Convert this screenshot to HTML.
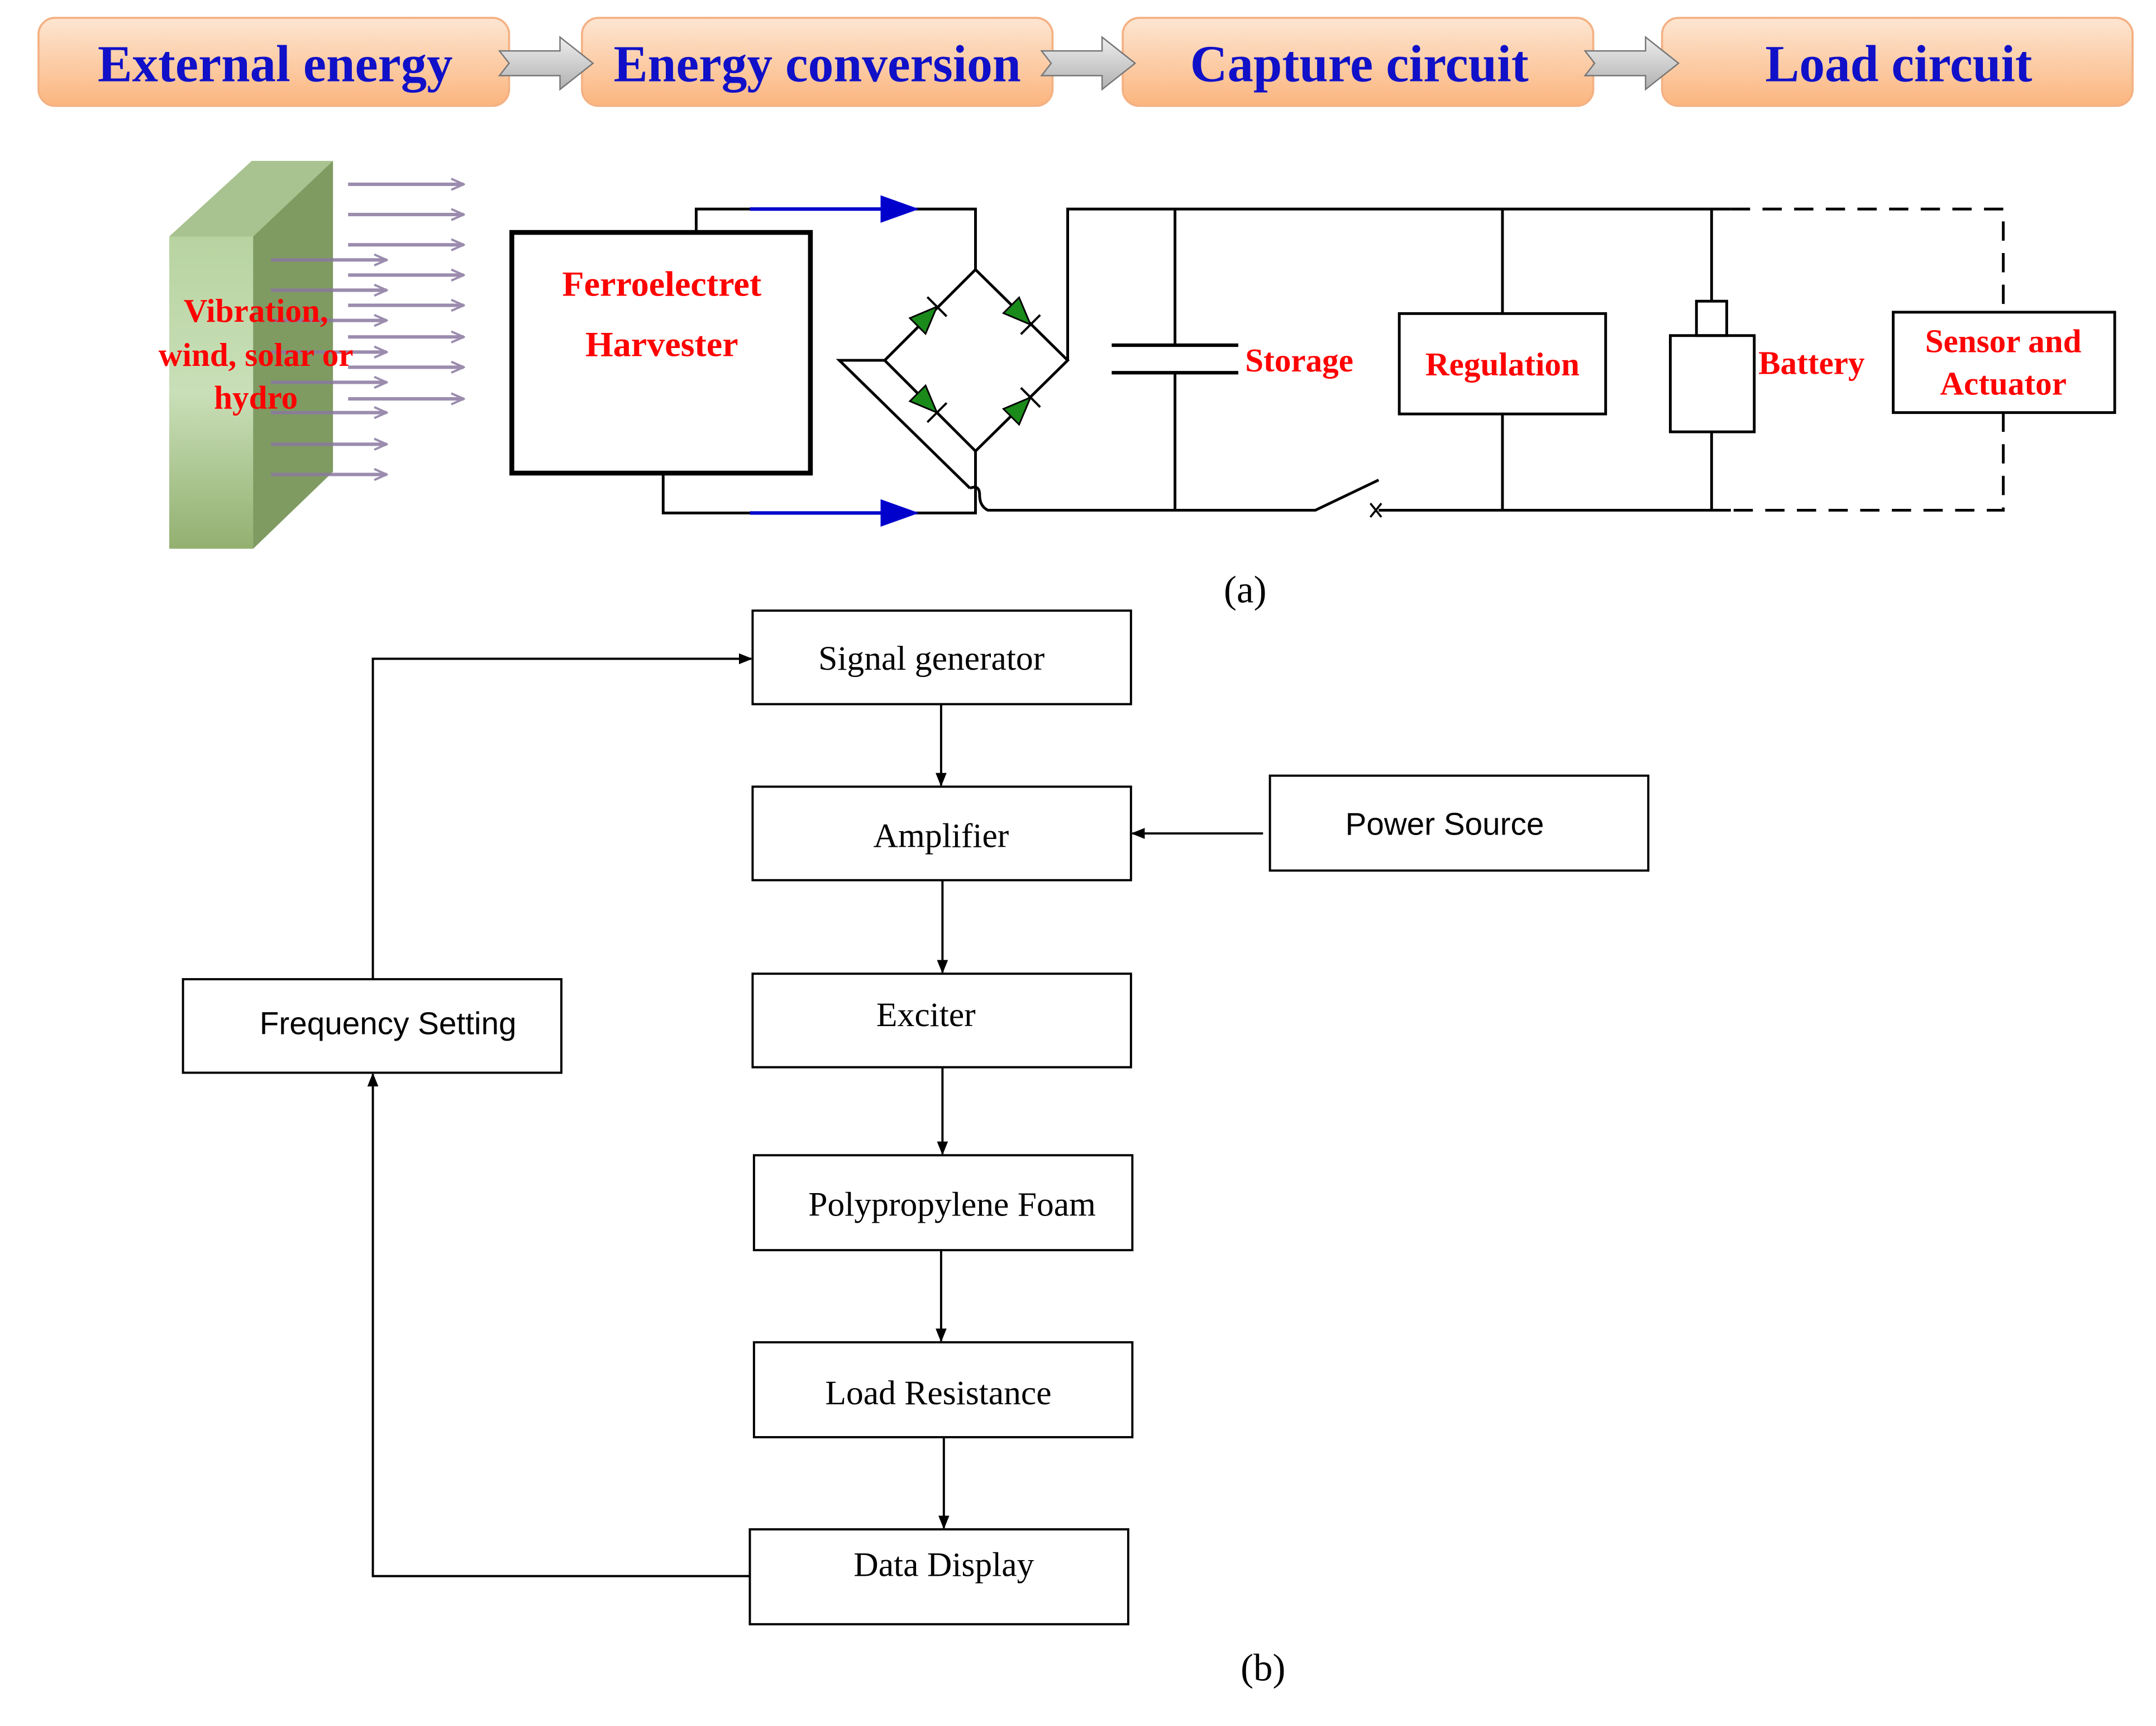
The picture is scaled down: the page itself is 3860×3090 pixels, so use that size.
<!DOCTYPE html>
<html><head><meta charset="utf-8"><style>
html,body{margin:0;padding:0;background:#fff}
svg{display:block}
.ser{font-family:"Liberation Serif",serif}
.san{font-family:"Liberation Sans",sans-serif}
</style></head><body>
<svg width="3860" height="3090" viewBox="0 0 1567 1255" preserveAspectRatio="none" xmlns="http://www.w3.org/2000/svg">
<defs>
<linearGradient id="ob" x1="0" y1="0" x2="0" y2="1"><stop offset="0" stop-color="#fde6d2"/><stop offset="1" stop-color="#fbb57e"/></linearGradient>
<linearGradient id="ga" x1="0" y1="0" x2="0" y2="1"><stop offset="0" stop-color="#eeeeee"/><stop offset="1" stop-color="#b0b0b0"/></linearGradient>
<linearGradient id="gf" x1="0" y1="0" x2="0" y2="1"><stop offset="0" stop-color="#b8d3a0"/><stop offset="0.5" stop-color="#c9dfb8"/><stop offset="1" stop-color="#93b070"/></linearGradient>
<marker id="ah" markerWidth="10" markerHeight="10" refX="9" refY="5" orient="auto" markerUnits="userSpaceOnUse"><path d="M0,1 L10,5 L0,9 Z" fill="#000"/></marker>
<marker id="pa" markerWidth="12" markerHeight="10" refX="11" refY="5" orient="auto" markerUnits="userSpaceOnUse"><path d="M2,1 L11,5 L2,9" fill="none" stroke="#8a78a0" stroke-width="1.6"/></marker>
</defs>

<g>
<rect x="28" y="13" width="342" height="64" rx="12" fill="url(#ob)" stroke="#f4b183" stroke-width="1.5"/>
<rect x="423" y="13" width="342" height="64" rx="12" fill="url(#ob)" stroke="#f4b183" stroke-width="1.5"/>
<rect x="816" y="13" width="342" height="64" rx="12" fill="url(#ob)" stroke="#f4b183" stroke-width="1.5"/>
<rect x="1208" y="13" width="342" height="64" rx="12" fill="url(#ob)" stroke="#f4b183" stroke-width="1.5"/>
<g fill="url(#ga)" stroke="#777" stroke-width="1">
<path d="M363,37 L407,37 L407,27 L431,46 L407,65 L407,55 L363,55 L370,46 Z"/>
<path d="M757,37 L801,37 L801,27 L825,46 L801,65 L801,55 L757,55 L764,46 Z"/>
<path d="M1152,37 L1196,37 L1196,27 L1220,46 L1196,65 L1196,55 L1152,55 L1159,46 Z"/>
</g>
<g class="ser" font-weight="bold" font-size="38" fill="#1010c8" text-anchor="middle">
<text x="200" y="59" textLength="258" lengthAdjust="spacingAndGlyphs">External energy</text>
<text x="594" y="59" textLength="296" lengthAdjust="spacingAndGlyphs">Energy conversion</text>
<text x="988" y="59" textLength="246" lengthAdjust="spacingAndGlyphs">Capture circuit</text>
<text x="1380" y="59" textLength="194" lengthAdjust="spacingAndGlyphs">Load circuit</text>
</g>
</g>

<path d="M123,172 L183,117 L242,117 L242,343 L184,399 Z" fill="#a9c48c"/>
<path d="M183,172 L242,117 L242,343 L184,399 Z" fill="#7f9b62"/>
<rect x="123" y="172" width="61" height="227" fill="url(#gf)"/>
<path d="M123,172 L183,117 L242,117 L184,172 Z" fill="#a8c290"/>
<g stroke="#8a78a0" stroke-width="2.5" marker-end="url(#pa)" opacity="0.85">
<line x1="253" y1="134" x2="337" y2="134"/><line x1="253" y1="156" x2="337" y2="156"/><line x1="253" y1="178" x2="337" y2="178"/>
<line x1="253" y1="200" x2="337" y2="200"/><line x1="253" y1="222" x2="337" y2="222"/><line x1="253" y1="245" x2="337" y2="245"/>
<line x1="253" y1="267" x2="337" y2="267"/><line x1="253" y1="290" x2="337" y2="290"/>
<line x1="197" y1="189" x2="281" y2="189"/><line x1="197" y1="211" x2="281" y2="211"/><line x1="197" y1="233" x2="281" y2="233"/>
<line x1="197" y1="256" x2="281" y2="256"/><line x1="197" y1="278" x2="281" y2="278"/><line x1="197" y1="300" x2="281" y2="300"/>
<line x1="197" y1="323" x2="281" y2="323"/><line x1="197" y1="345" x2="281" y2="345"/>
</g>
<g class="ser" font-weight="bold" font-size="24" fill="#f00" text-anchor="middle">
<text x="186" y="234">Vibration,</text><text x="186" y="266">wind, solar or</text><text x="186" y="297">hydro</text>
</g>

<rect x="372" y="169" width="217" height="175" fill="#fff" stroke="#000" stroke-width="3.5"/>
<g class="ser" font-weight="bold" font-size="26" fill="#f00" text-anchor="middle">
<text x="481" y="215">Ferroelectret</text><text x="481" y="259">Harvester</text>
</g>
<g fill="none" stroke="#000" stroke-width="2">
<polyline points="506,169 506,152 545,152"/>
<polyline points="482,344 482,373 545,373"/>
<polyline points="665,152 709,152 709,196"/>
<polyline points="665,373 709,373 709,328"/>
<polygon points="709,196 776,262 709,328 643,262"/>
<polyline points="643,262 610,262 705,355"/>
<path d="M705,355 Q712,352 712,360 Q712,368 718,371 L956,371 L1002,349"/>
<polyline points="776,262 776,152 1258,152"/>
<line x1="1002" y1="371" x2="1258" y2="371"/>
<line x1="854" y1="152" x2="854" y2="251"/><line x1="854" y1="271" x2="854" y2="371"/>
<line x1="808" y1="251" x2="900" y2="251" stroke-width="2.5"/><line x1="808" y1="271" x2="900" y2="271" stroke-width="2.5"/>
<line x1="1092" y1="152" x2="1092" y2="228"/><line x1="1092" y1="301" x2="1092" y2="371"/>
<line x1="1244" y1="152" x2="1244" y2="219"/><line x1="1244" y1="314" x2="1244" y2="371"/>
<rect x="1233" y="219" width="22" height="25"/>
<rect x="1214" y="244" width="61" height="70"/>
<rect x="1017" y="228" width="150" height="73"/>
<rect x="1376" y="227" width="161" height="73"/>
<path d="M1258,152 L1456,152 L1456,227 M1456,300 L1456,371 L1258,371" stroke-dasharray="14,9"/>
<path d="M996,366 l8,10 M1004,366 l-8,10" stroke-width="1.5"/>
</g>
<g stroke="#0000cc" stroke-width="2.5"><line x1="545" y1="152" x2="645" y2="152"/><line x1="545" y1="373" x2="645" y2="373"/></g>
<g fill="#0000cc"><path d="M640,142 L668,152 L640,162 Z"/><path d="M640,363 L668,373 L640,383 Z"/></g>
<g fill="#1a8a1a" stroke="#000" stroke-width="1.2">
<polygon points="681,223 672.7,242.7 661.3,231.3"/>
<polygon points="749,236 740.7,216.3 729.3,227.7"/>
<polygon points="681,300 672.7,280.3 661.3,291.7"/>
<polygon points="749,289 740.7,308.7 729.3,297.3"/>
</g>
<g stroke="#000" stroke-width="1.6">
<line x1="674" y1="216" x2="688" y2="230"/><line x1="742" y1="243" x2="756" y2="229"/>
<line x1="674" y1="307" x2="688" y2="293"/><line x1="742" y1="282" x2="756" y2="296"/>
</g>
<g class="ser" font-weight="bold" font-size="24" fill="#f00">
<text x="905" y="270">Storage</text>
<text x="1092" y="273" text-anchor="middle">Regulation</text>
<text x="1278" y="272">Battery</text>
<text x="1456" y="256" text-anchor="middle">Sensor and</text>
<text x="1456" y="287" text-anchor="middle">Actuator</text>
</g>
<text class="ser" x="905" y="438" font-size="28" text-anchor="middle">(a)</text>

<g fill="#fff" stroke="#000" stroke-width="1.6">
<rect x="547" y="444" width="275" height="68"/>
<rect x="547" y="572" width="275" height="68"/>
<rect x="923" y="564" width="275" height="69"/>
<rect x="547" y="708" width="275" height="68"/>
<rect x="133" y="712" width="275" height="68"/>
<rect x="548" y="840" width="275" height="69"/>
<rect x="548" y="976" width="275" height="69"/>
<rect x="545" y="1112" width="275" height="69"/>
</g>
<g fill="none" stroke="#000" stroke-width="1.6" marker-end="url(#ah)">
<line x1="684" y1="512" x2="684" y2="571"/>
<line x1="685" y1="640" x2="685" y2="707"/>
<line x1="685" y1="776" x2="685" y2="839"/>
<line x1="684" y1="909" x2="684" y2="975"/>
<line x1="686" y1="1045" x2="686" y2="1111"/>
<line x1="918" y1="606" x2="823" y2="606"/>
<polyline points="271,712 271,479 546,479"/>
<polyline points="545,1146 271,1146 271,781"/>
</g>
<g class="ser" font-size="25" text-anchor="middle">
<text x="677" y="487">Signal generator</text>
<text x="684" y="616">Amplifier</text>
<text x="673" y="746">Exciter</text>
<text x="692" y="884">Polypropylene Foam</text>
<text x="682" y="1021">Load Resistance</text>
<text x="686" y="1146">Data Display</text>
</g>
<g class="san" font-size="23" text-anchor="middle">
<text x="1050" y="607">Power Source</text>
<text x="282" y="752">Frequency Setting</text>
</g>
<text class="ser" x="918" y="1222" font-size="28" text-anchor="middle">(b)</text>
</svg>
</body></html>
